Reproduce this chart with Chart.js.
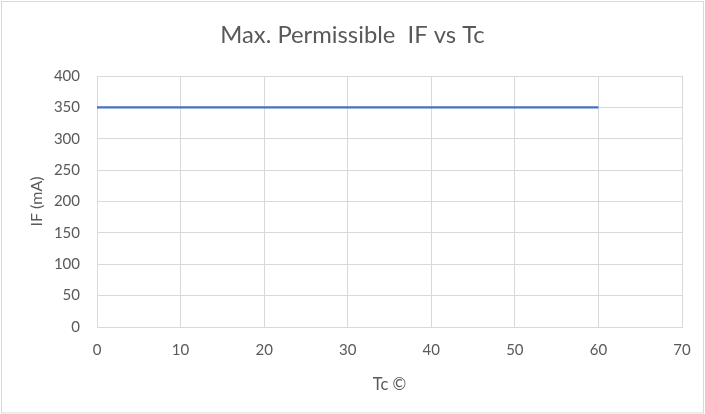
<!DOCTYPE html>
<html>
<head>
<meta charset="utf-8">
<script src="https://cdn.jsdelivr.net/npm/chart.js@4/dist/chart.umd.min.js"></script>
<style>
  html, body { margin: 0; padding: 0; background: #fff; }
  #wrap { width: 705px; height: 414px; position: relative; }
</style>
</head>
<body>
<div id="wrap"><canvas id="c" width="705" height="414"></canvas></div>
<script>
// Case temperature (°C) and maximum permissible forward current (mA)
const tcValues = [0, 60];
const ifValues = [350, 350];
const xTicks = [0, 10, 20, 30, 40, 50, 60, 70];
const yTicks = [0, 50, 100, 150, 200, 250, 300, 350, 400];

const FONT = "Lato, 'Open Sans', sans-serif";
const TEXT = '#595959';
const GRID = '#d9d9d9';

// Thin frame around the whole chart
const framePlugin = {
  id: 'frame',
  afterDraw(chart) {
    const ctx = chart.ctx;
    ctx.save();
    ctx.strokeStyle = GRID;
    ctx.lineWidth = 1;
    ctx.strokeRect(1.5, 1.5, chart.width - 3, chart.height - 2.5);
    ctx.restore();
  }
};

new Chart(document.getElementById('c'), {
  type: 'scatter',
  data: {
    datasets: [{
      data: tcValues.map((x, i) => ({ x: x, y: ifValues[i] })),
      showLine: true,
      borderColor: '#4472C4',
      borderWidth: 2.25,
      pointRadius: 0,
      pointHoverRadius: 0,
      fill: false
    }]
  },
  options: {
    responsive: false,
    animation: false,
    devicePixelRatio: 1,
    layout: { padding: { left: 23, right: 23, top: 0, bottom: 10 } },
    plugins: {
      legend: { display: false },
      tooltip: { enabled: false },
      title: {
        display: true,
        text: 'Max. Permissible  IF vs Tc',
        color: TEXT,
        font: { family: FONT, size: 23.8, weight: 'normal' },
        padding: { top: 21, bottom: 26.5 }
      }
    },
    scales: {
      x: {
        type: 'linear',
        min: xTicks[0],
        max: xTicks[xTicks.length - 1],
        afterBuildTicks(scale) { scale.ticks = xTicks.map(v => ({ value: v })); },
        afterFit(scale) { scale.height = 414 - 327 - 10; },
        grid: { color: GRID, drawTicks: false },
        border: { color: GRID },
        ticks: { color: TEXT, font: { family: FONT, size: 15 }, padding: 14 },
        title: {
          display: true,
          text: 'Tc ©',
          color: TEXT,
          font: { family: FONT, size: 16.5 },
          padding: { top: 0, bottom: 9 }
        }
      },
      y: {
        type: 'linear',
        min: yTicks[0],
        max: yTicks[yTicks.length - 1],
        afterBuildTicks(scale) { scale.ticks = yTicks.map(v => ({ value: v })); },
        afterFit(scale) { scale.width = 97 - 23; },
        grid: { color: GRID, drawTicks: false },
        border: { color: GRID },
        ticks: { color: TEXT, font: { family: FONT, size: 15 }, padding: 17 },
        title: {
          display: true,
          text: 'IF (mA)',
          color: TEXT,
          font: { family: FONT, size: 16 },
          padding: { top: 4, bottom: 0 }
        }
      }
    }
  },
  plugins: [framePlugin]
});
</script>
</body>
</html>
